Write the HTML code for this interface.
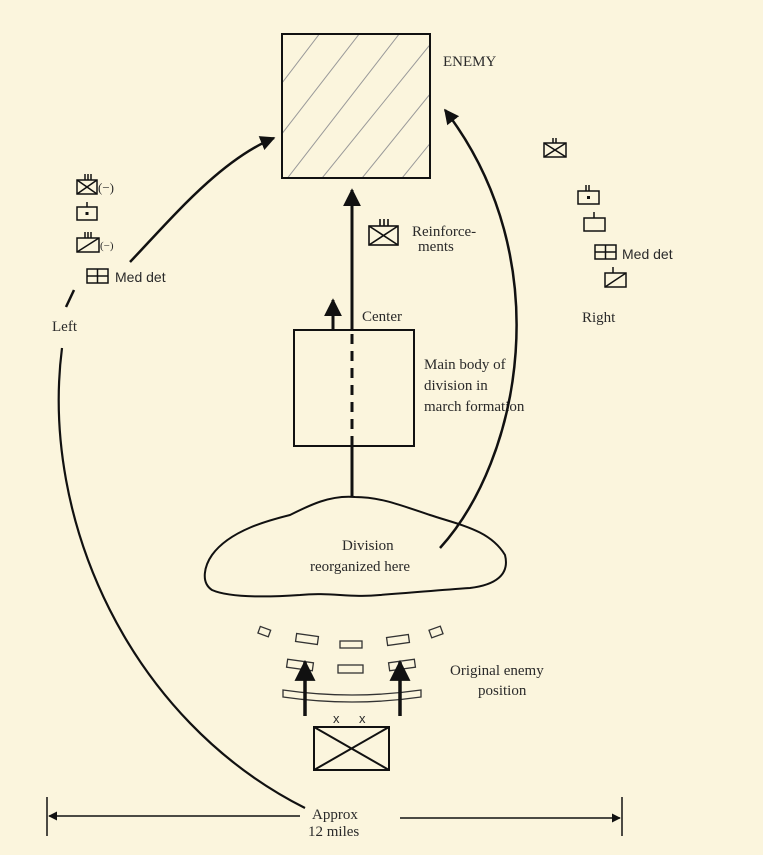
<!DOCTYPE html>
<html><head><meta charset="utf-8"><style>
html,body{margin:0;padding:0;background:#fbf5dd;}
svg{display:block;}
text{font-family:"Liberation Serif",serif;font-size:15px;fill:#2a2a2a;}
</style></head><body>
<svg width="763" height="855" viewBox="0 0 763 855" xmlns="http://www.w3.org/2000/svg">
<defs>
<clipPath id="c"><rect x="283" y="35" width="146" height="142"/></clipPath>
<marker id="ah" viewBox="0 0 10 10" refX="9" refY="5" markerWidth="6" markerHeight="6" orient="auto"><path d="M0,0 L10,5 L0,10 z" fill="#111"/></marker>
</defs>
<rect width="763" height="855" fill="#fbf5dd"/>
<g clip-path="url(#c)" stroke="#999" stroke-width="1">
<line x1="250" y1="125" x2="330" y2="20"/><line x1="250" y1="175" x2="370" y2="20"/>
<line x1="255" y1="220" x2="410" y2="20"/><line x1="280" y1="230" x2="450" y2="20"/>
<line x1="320" y1="230" x2="490" y2="20"/><line x1="360" y1="230" x2="530" y2="20"/>
<line x1="400" y1="230" x2="570" y2="20"/>
</g>
<rect x="282" y="34" width="148" height="144" fill="none" stroke="#111" stroke-width="2"/>
<text x="443" y="66">ENEMY</text>
<g stroke="#111" stroke-width="3" fill="none">
<line x1="352" y1="497" x2="352" y2="446"/>
<line x1="352" y1="446" x2="352" y2="330" stroke-dasharray="10,7"/>
<line x1="352" y1="330" x2="352" y2="190" marker-end="url(#ah)"/>
<line x1="333" y1="330" x2="333" y2="300" marker-end="url(#ah)"/>
</g>
<rect x="294" y="330" width="120" height="116" fill="none" stroke="#111" stroke-width="2"/>
<text x="362" y="321">Center</text>
<text x="424" y="369">Main body of</text>
<text x="424" y="390">division in</text>
<text x="424" y="411">march formation</text>
<g stroke="#111" stroke-width="1.6" fill="none">
<rect x="369" y="226" width="29" height="19"/><line x1="369" y1="226" x2="398" y2="245"/><line x1="398" y1="226" x2="369" y2="245"/>
<line x1="380" y1="219" x2="380" y2="226"/><line x1="384" y1="219" x2="384" y2="226"/><line x1="388" y1="219" x2="388" y2="226"/>
</g>
<text x="412" y="236">Reinforce-</text>
<text x="418" y="251">ments</text>
<path d="M440,548 C520,460 560,260 445,110" stroke="#111" stroke-width="2.5" fill="none" marker-end="url(#ah)"/>
<path d="M130,262 C170,220 220,160 274,138" stroke="#111" stroke-width="2.5" fill="none" marker-end="url(#ah)"/>
<line x1="66" y1="307" x2="74" y2="290" stroke="#111" stroke-width="2.5"/>
<path d="M305,808 C130,720 40,520 62,348" stroke="#111" stroke-width="2.2" fill="none"/>
<g stroke="#111" stroke-width="1.5" fill="none">
<rect x="77" y="180" width="20" height="14"/><line x1="77" y1="180" x2="97" y2="194"/><line x1="97" y1="180" x2="77" y2="194"/>
<line x1="85" y1="174" x2="85" y2="180"/><line x1="88" y1="174" x2="88" y2="180"/><line x1="91" y1="174" x2="91" y2="180"/>
<rect x="77" y="207" width="20" height="13"/><line x1="87" y1="202" x2="87" y2="207"/>
<rect x="77" y="238" width="22" height="14"/><line x1="77" y1="252" x2="99" y2="238"/>
<line x1="85" y1="232" x2="85" y2="238"/><line x1="88" y1="232" x2="88" y2="238"/><line x1="91" y1="232" x2="91" y2="238"/>
<rect x="87" y="269" width="21" height="14"/><line x1="97.5" y1="269" x2="97.5" y2="283"/><line x1="87" y1="276" x2="108" y2="276"/>
</g>
<rect x="85.5" y="212" width="3" height="3" fill="#111"/>
<text x="98" y="192" style="font-size:13px">(−)</text>
<text x="100" y="249" style="font-size:11px">(−)</text>
<text x="115" y="282" style="font-family:'Liberation Sans',sans-serif;font-size:14px">Med det</text>
<text x="52" y="331">Left</text>
<g stroke="#111" stroke-width="1.5" fill="none">
<rect x="544" y="143" width="22" height="14"/><line x1="544" y1="143" x2="566" y2="157"/><line x1="566" y1="143" x2="544" y2="157"/>
<line x1="553" y1="138" x2="553" y2="143"/><line x1="556" y1="138" x2="556" y2="143"/>
<rect x="578" y="191" width="21" height="13"/><line x1="586" y1="185" x2="586" y2="191"/><line x1="589" y1="185" x2="589" y2="191"/>
<rect x="584" y="218" width="21" height="13"/><line x1="594" y1="212" x2="594" y2="218"/>
<rect x="595" y="245" width="21" height="14"/><line x1="605.5" y1="245" x2="605.5" y2="259"/><line x1="595" y1="252" x2="616" y2="252"/>
<rect x="605" y="273" width="21" height="14"/><line x1="605" y1="287" x2="626" y2="273"/><line x1="613" y1="267" x2="613" y2="273"/>
</g>
<rect x="587" y="196" width="3" height="3" fill="#111"/>
<text x="622" y="259" style="font-family:'Liberation Sans',sans-serif;font-size:14px">Med det</text>
<text x="582" y="322">Right</text>
<path d="M212,555 C230,530 270,520 290,515 C310,505 330,495 355,497 C380,497 400,505 430,515 C460,525 490,530 505,555 C510,575 495,585 470,588 C440,590 420,592 380,595 C350,598 330,592 300,595 C270,597 230,598 212,590 C200,582 205,565 212,555 Z" fill="none" stroke="#111" stroke-width="2"/>
<text x="342" y="550">Division</text>
<text x="310" y="571">reorganized here</text>
<g stroke="#333" stroke-width="1.3" fill="none">
<rect x="259" y="628" width="11" height="7" transform="rotate(20 264 631)"/>
<rect x="296" y="635" width="22" height="8" transform="rotate(8 307 639)"/>
<rect x="340" y="641" width="22" height="7"/>
<rect x="387" y="636" width="22" height="8" transform="rotate(-8 398 640)"/>
<rect x="430" y="628" width="12" height="8" transform="rotate(-20 436 632)"/>
<rect x="287" y="661" width="26" height="8" transform="rotate(8 300 665)"/>
<rect x="338" y="665" width="25" height="8"/>
<rect x="389" y="661" width="26" height="8" transform="rotate(-8 402 665)"/>
<path d="M283,690 Q352,700 421,690 L421,697 Q352,707 283,697 Z"/>
</g>
<g stroke="#111" stroke-width="3.5" fill="none">
<line x1="305" y1="716" x2="305" y2="662" marker-end="url(#ah)"/>
<line x1="400" y1="716" x2="400" y2="662" marker-end="url(#ah)"/>
</g>
<text x="450" y="675">Original enemy</text>
<text x="478" y="695">position</text>
<text x="333" y="723" style="font-family:'Liberation Sans',sans-serif;font-size:13px">x</text>
<text x="359" y="723" style="font-family:'Liberation Sans',sans-serif;font-size:13px">x</text>
<g stroke="#111" stroke-width="2" fill="none">
<rect x="314" y="727" width="75" height="43"/><line x1="314" y1="727" x2="389" y2="770"/><line x1="389" y1="727" x2="314" y2="770"/>
</g>
<g stroke="#111" stroke-width="1.5" fill="none">
<line x1="47" y1="797" x2="47" y2="836"/><line x1="622" y1="797" x2="622" y2="836"/>
<line x1="300" y1="816" x2="49" y2="816" marker-end="url(#ah)"/>
<line x1="400" y1="818" x2="620" y2="818" marker-end="url(#ah)"/>
</g>
<text x="312" y="819">Approx</text>
<text x="308" y="836">12 miles</text>
</svg>
</body></html>
